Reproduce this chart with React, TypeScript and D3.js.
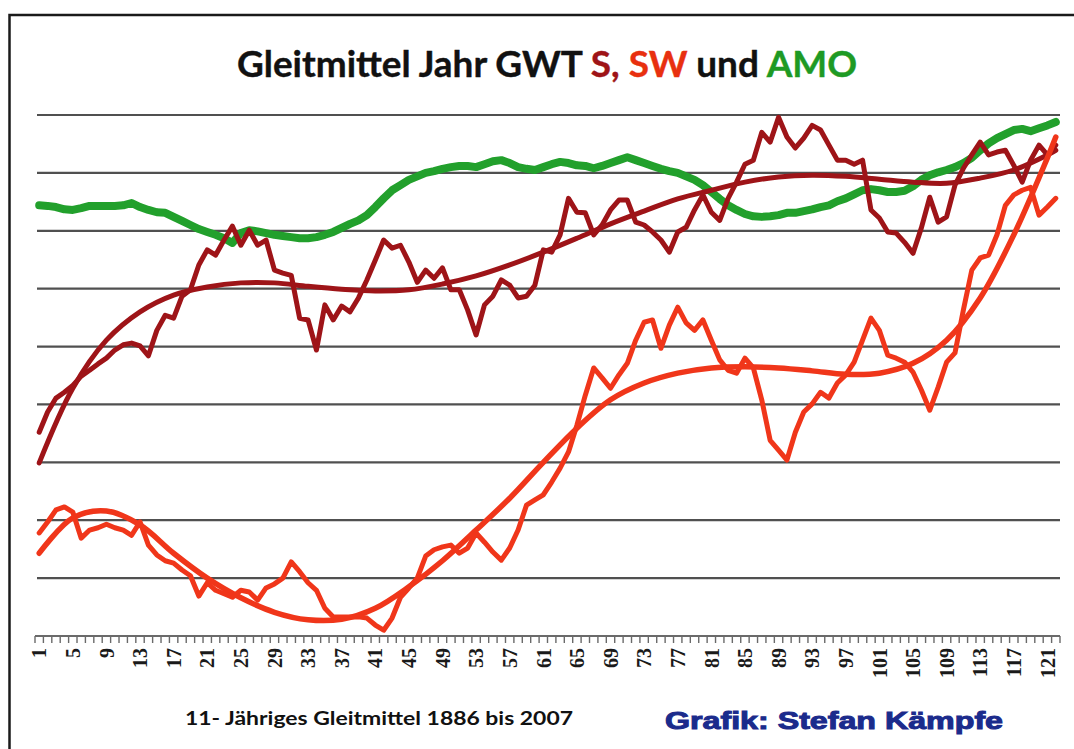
import React from "react";
import * as d3 from "d3";

// 122 years: 1886..2007, categories 1..122
const categories: number[] = d3.range(1, 123);
const tickLabels: number[] = d3.range(1, 122, 4);

// GWT S (11-year moving average), grid units
const sValues: number[] = [
  3.52, 3.87, 4.11, 4.21, 4.33, 4.49, 4.59, 4.70, 4.80, 4.94,
  5.03, 5.06, 5.01, 4.84, 5.28, 5.54, 5.49, 5.87, 5.98, 6.41,
  6.67, 6.58, 6.84, 7.08, 6.75, 7.01, 6.75, 6.84, 6.32, 6.27,
  6.23, 5.49, 5.46, 4.94, 5.72, 5.46, 5.70, 5.60, 5.84, 6.15,
  6.49, 6.84, 6.70, 6.75, 6.46, 6.11, 6.32, 6.18, 6.36, 5.98,
  5.98, 5.63, 5.20, 5.72, 5.87, 6.15, 6.06, 5.84, 5.87, 6.06,
  6.67, 6.63, 6.93, 7.56, 7.32, 7.31, 6.93, 7.10, 7.36, 7.53,
  7.53, 7.15, 7.10, 6.98, 6.84, 6.63, 6.98, 7.06, 7.36, 7.62,
  7.32, 7.18, 7.56, 7.84, 8.15, 8.22, 8.70, 8.53, 8.96, 8.62,
  8.43, 8.60, 8.82, 8.74, 8.48, 8.22, 8.22, 8.15, 8.22, 7.36,
  7.22, 6.98, 6.96, 6.80, 6.61, 7.05, 7.58, 7.15, 7.24, 7.79,
  8.08, 8.31, 8.53, 8.31, 8.36, 8.39, 8.13, 7.84, 8.22, 8.48,
  8.31, 8.48,
];

// GWT SW (11-year moving average)
const swValues: number[] = [
  1.78, 1.97, 2.18, 2.23, 2.14, 1.69, 1.83, 1.87, 1.93, 1.87,
  1.83, 1.74, 1.97, 1.57, 1.40, 1.30, 1.26, 1.14, 1.04, 0.69,
  0.92, 0.79, 0.73, 0.67, 0.79, 0.76, 0.62, 0.83, 0.90, 1.00,
  1.28, 1.11, 0.92, 0.79, 0.48, 0.33, 0.33, 0.33, 0.33, 0.31,
  0.19, 0.10, 0.31, 0.67, 0.83, 1.00, 1.38, 1.49, 1.54, 1.57,
  1.43, 1.52, 1.78, 1.62, 1.45, 1.31, 1.52, 1.83, 2.26, 2.35,
  2.44, 2.66, 2.90, 3.18, 3.64, 4.16, 4.63, 4.46, 4.28, 4.51,
  4.71, 5.11, 5.42, 5.46, 4.97, 5.37, 5.68, 5.41, 5.28, 5.46,
  5.11, 4.77, 4.59, 4.54, 4.80, 4.63, 4.08, 3.38, 3.21, 3.04,
  3.52, 3.87, 4.01, 4.21, 4.11, 4.37, 4.51, 4.73, 5.11, 5.49,
  5.28, 4.85, 4.80, 4.73, 4.56, 4.25, 3.90, 4.30, 4.73, 4.89,
  5.63, 6.32, 6.53, 6.58, 6.93, 7.44, 7.62, 7.70, 7.75, 7.27,
  7.41, 7.56,
];

// AMO (11-year moving average)
const amoValues: number[] = [
  7.44, 7.43, 7.41, 7.37, 7.36, 7.39, 7.43, 7.43, 7.43, 7.43,
  7.44, 7.48, 7.41, 7.36, 7.32, 7.31, 7.24, 7.17, 7.10, 7.03,
  6.98, 6.93, 6.87, 6.79, 6.96, 7.01, 6.99, 6.96, 6.93, 6.91,
  6.89, 6.87, 6.87, 6.89, 6.93, 6.98, 7.05, 7.12, 7.18, 7.27,
  7.41, 7.56, 7.70, 7.79, 7.88, 7.94, 8.00, 8.03, 8.07, 8.10,
  8.12, 8.12, 8.10, 8.15, 8.20, 8.22, 8.17, 8.10, 8.07, 8.05,
  8.10, 8.15, 8.19, 8.17, 8.13, 8.12, 8.08, 8.12, 8.17, 8.22,
  8.27, 8.22, 8.17, 8.12, 8.07, 8.03, 8.00, 7.94, 7.88, 7.79,
  7.67, 7.55, 7.44, 7.36, 7.29, 7.25, 7.24, 7.25, 7.27, 7.31,
  7.31, 7.34, 7.37, 7.41, 7.44, 7.51, 7.56, 7.63, 7.70, 7.72,
  7.70, 7.67, 7.67, 7.69, 7.77, 7.88, 7.96, 8.01, 8.05, 8.10,
  8.17, 8.26, 8.39, 8.51, 8.60, 8.67, 8.74, 8.76, 8.72, 8.77,
  8.82, 8.88,
];

// Polynomial trend lines, read at categories 1,5,9,...,121 and 122
const trendCats: number[] = [...d3.range(1, 122, 4), 122];
const sTrend: number[] = [
  2.99, 4.28, 5.11, 5.60, 5.89, 6.03, 6.10, 6.10, 6.04, 5.99,
  5.96, 5.98, 6.08, 6.22, 6.41, 6.63, 6.87, 7.12, 7.34, 7.55,
  7.70, 7.84, 7.93, 7.96, 7.94, 7.89, 7.84, 7.82, 7.91, 8.05,
  8.31, 8.39,
];
const swTrend: number[] = [
  1.43, 2.04, 2.16, 1.92, 1.43, 1.00, 0.66, 0.41, 0.28, 0.29,
  0.48, 0.85, 1.30, 1.83, 2.38, 3.00, 3.59, 4.08, 4.37, 4.54,
  4.63, 4.65, 4.63, 4.58, 4.52, 4.54, 4.71, 5.11, 5.84, 6.93,
  8.26, 8.62,
];

const gridValues: number[] = d3.range(1, 10);

const COL_S = "#9E1418";
const COL_SW = "#F0361A";
const COL_AMO = "#22A02C";

export default function App() {
  const W = 1074;
  const H = 749;
  const x = d3.scaleBand<number>().domain(categories).range([35, 1060]);
  const cx = (c: number) => (x(c) as number) + x.bandwidth() / 2;
  const y = d3.scaleLinear().domain([0, 9]).range([636, 115]);

  const line = d3
    .line<[number, number]>()
    .x((d) => cx(d[0]))
    .y((d) => y(d[1]))
    .curve(d3.curveLinear);
  const smooth = d3
    .line<[number, number]>()
    .x((d) => cx(d[0]))
    .y((d) => y(d[1]))
    .curve(d3.curveCatmullRom.alpha(0.5));

  const pts = (vals: number[], cats: number[]) =>
    vals.map((v, i) => [cats[i], v] as [number, number]);

  const tickXs = d3.range(0, categories.length + 1).map((k) => 35 + k * x.bandwidth());

  return (
    <svg
      width={W}
      height={H}
      style={{ position: "absolute", left: 0, top: 0, background: "#fff" }}
    >
      <rect x={0} y={0} width={W} height={H} fill="#fff" />
      <rect x={9.5} y={15} width={1100} height={800} fill="none" stroke="#1a1a1a" strokeWidth={2.5} />

      {/* Title */}
      <text
        x={547}
        y={77}
        textAnchor="middle"
        fontFamily="Lato, 'Open Sans', sans-serif"
        fontWeight={700}
        fontSize={37}
        textLength={620}
        lengthAdjust="spacingAndGlyphs"
        fill="#111"
        stroke="#111"
        strokeWidth={0.4}
      >
        <tspan>Gleitmittel Jahr GWT </tspan>
        <tspan fill="#9E1418" stroke="#9E1418">S,</tspan>
        <tspan> </tspan>
        <tspan fill="#E8300F" stroke="#E8300F">SW</tspan>
        <tspan> und </tspan>
        <tspan fill="#1E9A24" stroke="#1E9A24">AMO</tspan>
      </text>

      {/* Gridlines */}
      {gridValues.map((g) => (
        <line
          key={g}
          x1={37}
          x2={1060}
          y1={y(g)}
          y2={y(g)}
          stroke="#505050"
          strokeWidth={2.2}
        />
      ))}

      {/* Axis */}
      <line x1={35} x2={1060} y1={y(0)} y2={y(0)} stroke="#6a6a6a" strokeWidth={2} />
      {tickXs.map((tx, i) => (
        <line key={i} x1={tx} x2={tx} y1={y(0)} y2={y(0) + 7} stroke="#6a6a6a" strokeWidth={1.4} />
      ))}
      {tickLabels.map((t) => (
        <text
          key={t}
          transform={`translate(${cx(t)},648) rotate(-90)`}
          textAnchor="end"
          dy="0.36em"
          fontFamily="'Liberation Serif', 'DejaVu Serif', serif"
          fontWeight={700}
          fontSize={20}
          fill="#1a1a1a"
        >
          {t}
        </text>
      ))}

      {/* Series */}
      <path d={line(pts(amoValues, categories)) || ""} fill="none" stroke={COL_AMO} strokeWidth={8} strokeLinejoin="round" strokeLinecap="round" />
      <path d={smooth(pts(sTrend, trendCats)) || ""} fill="none" stroke={COL_S} strokeWidth={5} strokeLinecap="round" />
      <path d={line(pts(sValues, categories)) || ""} fill="none" stroke={COL_S} strokeWidth={5} strokeLinejoin="round" strokeLinecap="round" />
      <path d={smooth(pts(swTrend, trendCats)) || ""} fill="none" stroke={COL_SW} strokeWidth={5.5} strokeLinecap="round" />
      <path d={line(pts(swValues, categories)) || ""} fill="none" stroke={COL_SW} strokeWidth={5} strokeLinejoin="round" strokeLinecap="round" />

      {/* Footer texts */}
      <text
        x={185}
        y={725}
        fontFamily="Lato, 'Open Sans', sans-serif"
        fontWeight={700}
        fontSize={19}
        textLength={388}
        lengthAdjust="spacingAndGlyphs"
        fill="#111"
      >
        11- Jähriges Gleitmittel 1886 bis 2007
      </text>
      <text
        x={665}
        y={729}
        fontFamily="'Liberation Sans', Arial, sans-serif"
        fontWeight={700}
        fontSize={24}
        textLength={338}
        lengthAdjust="spacingAndGlyphs"
        fill="#1B2B8C"
        stroke="#1B2B8C"
        strokeWidth={1}
      >
        Grafik: Stefan Kämpfe
      </text>
    </svg>
  );
}
